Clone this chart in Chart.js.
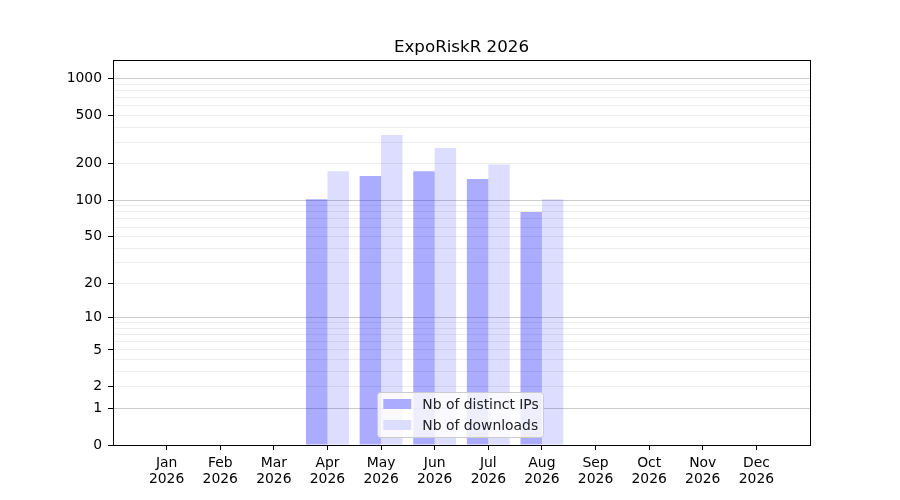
<!DOCTYPE html>
<html>
<head>
<meta charset="utf-8">
<script src="https://cdn.jsdelivr.net/npm/chart.js@4"></script>
<style>
  html, body { margin: 0; padding: 0; background: #fff; }
  #wrap { width: 900px; height: 500px; }
</style>
</head>
<body>
<div id="wrap"><canvas id="chart" width="900" height="500"></canvas></div>
<script>
const months = ["Jan", "Feb", "Mar", "Apr", "May", "Jun", "Jul", "Aug", "Sep", "Oct", "Nov", "Dec"];
const year = "2026";
const distinctIPs = [0, 0, 0, 102, 159, 174, 150, 80, 0, 0, 0, 0];
const downloads = [0, 0, 0, 174, 345, 270, 197, 102, 0, 0, 0, 0];
const yTickLabels = [0, 1, 2, 5, 10, 20, 50, 100, 200, 500, 1000];
const yMajorGrid = [1, 10, 100, 1000];
const yMinorGrid = [2, 3, 4, 5, 6, 7, 8, 9, 20, 30, 40, 50, 60, 70, 80, 90, 200, 300, 400, 500, 600, 700, 800, 900];

// y axis is log10(1 + x)
const fwd = v => Math.log10(1 + v);
const back = t => Math.round(Math.pow(10, t) - 1);

const FONT = "'DejaVu Sans', sans-serif";

const labels = ["", ...months, ""];
const toData = arr => [null, ...arr.map(fwd), null];

// frame around plot + legend box drawn inside the axes
const framePlugin = {
    id: "frame",
    afterDatasetsDraw(chart) {
        const ctx = chart.ctx;
        const a = chart.chartArea;
        ctx.save();
        ctx.strokeStyle = "#000";
        ctx.lineWidth = 1;
        ctx.strokeRect(Math.round(a.left) + 0.5, Math.round(a.top) + 0.5,
            Math.round(a.right - a.left), Math.round(a.bottom - a.top));
        ctx.restore();
    },
    afterDraw(chart) {
        const ctx = chart.ctx;
        const a = chart.chartArea;
        const items = chart.data.datasets.map(d => ({ text: d.label, color: d.backgroundColor }));
        ctx.save();
        ctx.font = "13.9px " + FONT;
        const textW = Math.max(...items.map(i => ctx.measureText(i.text).width));
        const w = 6 + 28 + 11 + textW + 5;
        const rowH = 21;
        const h = items.length * rowH + 3;
        const x = (a.left + a.right) / 2 - w / 2 - 1;
        const y = a.bottom - 8 - h;
        ctx.fillStyle = "rgba(255,255,255,0.8)";
        ctx.strokeStyle = "#cccccc";
        ctx.lineWidth = 1;
        ctx.beginPath();
        ctx.roundRect(Math.round(x) + 0.5, Math.round(y) + 0.5, Math.round(w), Math.round(h), 3);
        ctx.fill();
        ctx.stroke();
        items.forEach((it, i) => {
            const cy = y + 12 + i * rowH;
            ctx.fillStyle = "#fff";
            ctx.fillRect(x + 6, cy - 5, 28, 10);
            ctx.fillStyle = it.color;
            ctx.fillRect(x + 6, cy - 5, 28, 10);
            ctx.fillStyle = "#222";
            ctx.textBaseline = "middle";
            ctx.textAlign = "left";
            ctx.fillText(it.text, x + 45, cy + 1);
        });
        ctx.restore();
    }
};

new Chart(document.getElementById("chart"), {
    type: "bar",
    data: {
        labels: labels,
        datasets: [
            {
                label: "Nb of distinct IPs",
                data: toData(distinctIPs),
                backgroundColor: "rgba(0,0,255,0.33)",
                borderWidth: 0
            },
            {
                label: "Nb of downloads",
                data: toData(downloads),
                backgroundColor: "rgba(0,0,255,0.133)",
                borderWidth: 0
            }
        ]
    },
    options: {
        responsive: false,
        animation: false,
        layout: { padding: { left: 0, right: 90, top: 0, bottom: 0 } },
        datasets: { bar: { categoryPercentage: 0.8, barPercentage: 1.0 } },
        plugins: {
            legend: { display: false },
            tooltip: { enabled: false },
            title: {
                display: true,
                text: "ExpoRiskR " + year,
                fullSize: false,
                color: "#000",
                font: { family: FONT, size: 16.7, weight: "normal" },
                padding: { top: 38, bottom: 2 }
            }
        },
        scales: {
            x: {
                type: "category",
                offset: false,
                grid: {
                    display: true,
                    offset: false,
                    drawOnChartArea: false,
                    tickLength: 5,
                    tickColor: ctx => labels[ctx.index] ? "#000" : "rgba(0,0,0,0)"
                },
                border: { display: true, color: "#000" },
                ticks: {
                    autoSkip: false,
                    maxRotation: 0,
                    color: "#000",
                    padding: 5,
                    font: { family: FONT, size: 13.9, lineHeight: 1.15 },
                    callback: function (value) {
                        const l = this.getLabelForValue(value);
                        return l ? [l, year] : "";
                    }
                },
                afterFit(scale) { scale.height = 55; }
            },
            y: {
                type: "linear",
                min: 0,
                max: 3.153,
                afterBuildTicks(scale) {
                    const vals = [0, ...yMajorGrid, ...yMinorGrid].sort((p, q) => p - q);
                    scale.ticks = vals.map(v => ({ value: fwd(v) }));
                },
                grid: {
                    tickLength: 5,
                    color: ctx => {
                        const v = back(ctx.tick.value);
                        if (v === 0) return "rgba(0,0,0,0)";
                        return yMajorGrid.includes(v) ? "rgba(0,0,0,0.2)" : "rgba(0,0,0,0.07)";
                    },
                    tickColor: ctx => yTickLabels.includes(back(ctx.tick.value)) ? "#000" : "rgba(0,0,0,0)"
                },
                border: { display: true, color: "#000" },
                ticks: {
                    autoSkip: false,
                    color: "#000",
                    padding: 6,
                    font: { family: FONT, size: 13.9 },
                    callback: value => {
                        const v = back(value);
                        return yTickLabels.includes(v) ? String(v) : "";
                    }
                },
                afterFit(scale) { scale.width = 113; }
            }
        }
    },
    plugins: [framePlugin]
});
</script>
</body>
</html>
